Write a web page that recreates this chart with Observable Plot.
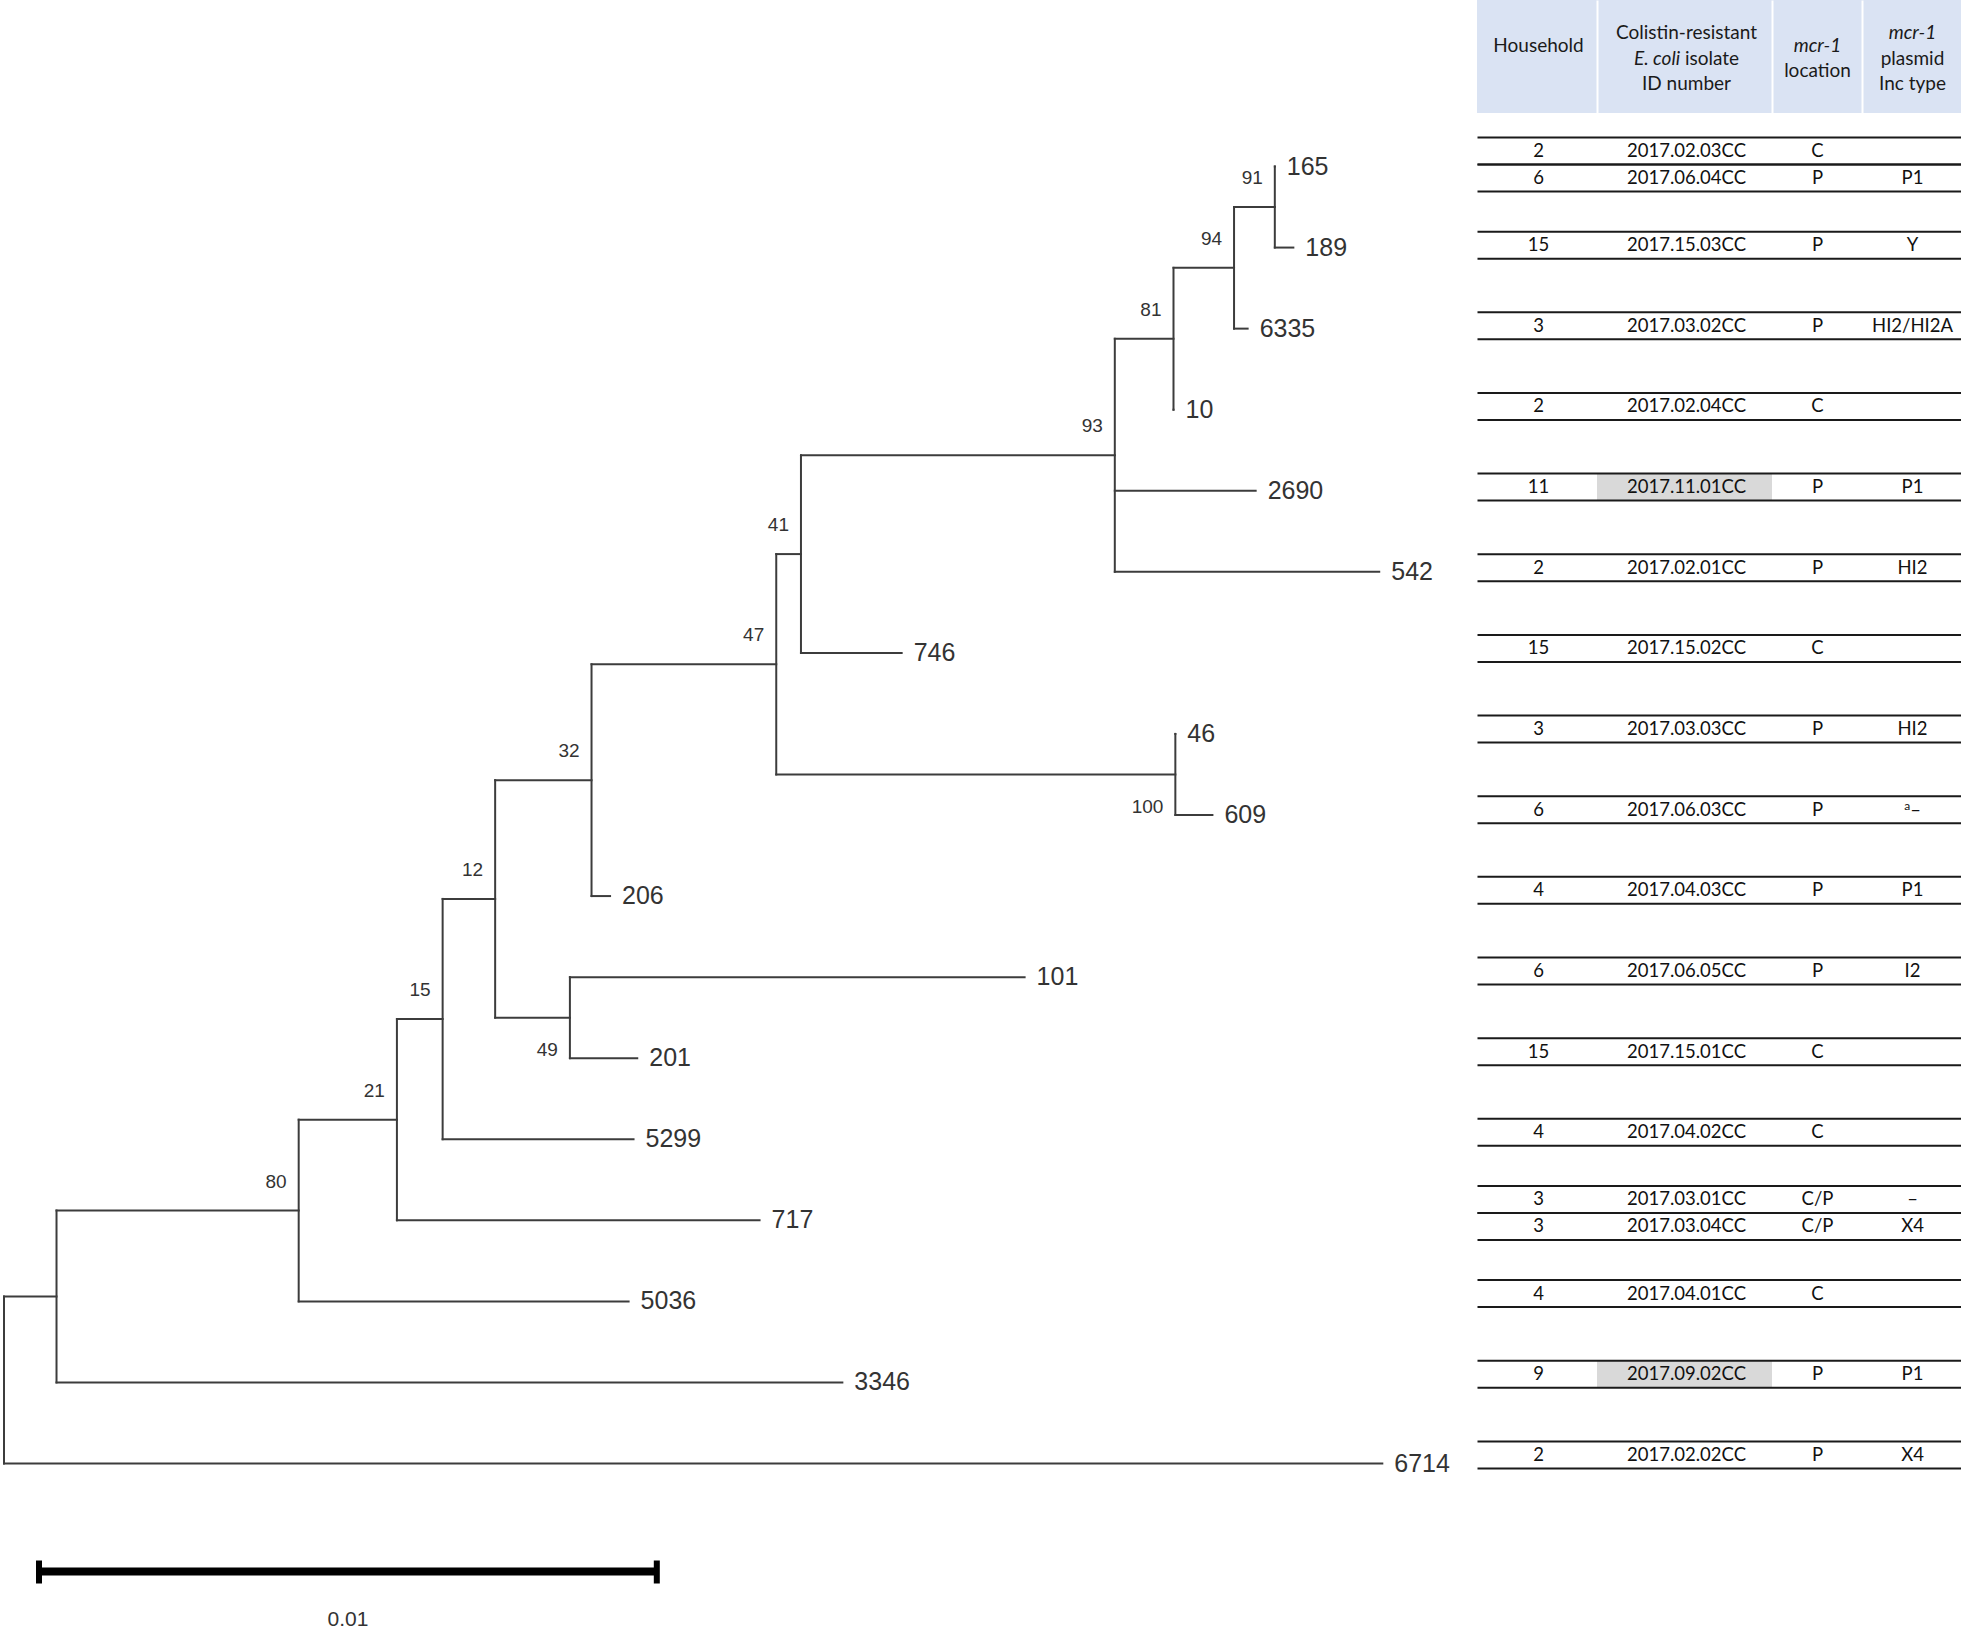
<!DOCTYPE html>
<html>
<head>
<meta charset="utf-8">
<script src="https://cdn.jsdelivr.net/npm/d3@7"></script>
<script src="https://cdn.jsdelivr.net/npm/@observablehq/plot@0.6"></script>
<style>
  html, body { margin: 0; padding: 0; background: #fff; }
  #wrap { display: flex; width: 1961px; height: 1628px; }
  #wrap svg { display: block; }
</style>
</head>
<body>
<div id="wrap"></div>
<script>
// ---------------- TREE DATA ----------------
// nodes in pre-order; children listed top to bottom
const nodeIds = ["root","nA","6714","n80","3346","n21","5036","n15","717","n12","5299",
  "n32","n49","101","201","n47","206","n41","n100","46","609","n93","746",
  "n81","2690","542","n94","10","n91","6335","165","189"];
const nodeParents = [null,"root","root","nA","nA","n80","n80","n21","n21","n15","n15",
  "n12","n12","n49","n49","n32","n32","n47","n47","n100","n100","n41","n41",
  "n93","n93","n93","n81","n81","n94","n94","n91","n91"];
const branchLengths = [0,0.00085,0.02231,0.00392,0.01272,0.00159,0.00534,0.00074,0.00587,0.00085,0.00309,
  0.00156,0.00121,0.00736,0.00109,0.00299,0.00030,0.00040,0.00646,0,0.00060,0.00508,0.00163,
  0.00095,0.00228,0.00428,0.00098,0,0.00066,0.00022,0,0.00030];
const bootstrapValues = [null,null,null,80,null,21,null,15,null,12,null,
  32,49,null,null,47,null,41,100,null,null,93,null,
  81,null,null,94,null,91,null,null,null];
const bootstrapBelow = ["n100","n49"];
const scaleBarLength = 0.01;
const scaleBarText = "0.01";

// ---------------- TABLE DATA ----------------
const tableHeader = [
  ["Household", ""],
  ["Colistin-resistant", "E. coli isolate", "ID number"],
  ["mcr-1", "location"],
  ["mcr-1", "plasmid", "Inc type"]
];
const rowST = ["165","165","189","6335","10","2690","542","746","46","609","206","101","201","5299","717","717","5036","3346","6714"];
const household = ["2","6","15","3","2","11","2","15","3","6","4","6","15","4","3","3","4","9","2"];
const isolateId = ["2017.02.03CC","2017.06.04CC","2017.15.03CC","2017.03.02CC","2017.02.04CC","2017.11.01CC",
  "2017.02.01CC","2017.15.02CC","2017.03.03CC","2017.06.03CC","2017.04.03CC","2017.06.05CC","2017.15.01CC",
  "2017.04.02CC","2017.03.01CC","2017.03.04CC","2017.04.01CC","2017.09.02CC","2017.02.02CC"];
const mcrLocation = ["C","P","P","P","C","P","P","C","P","P","P","P","C","C","C/P","C/P","C","P","P"];
const incType = ["","P1","Y","HI2/HI2A","","P1","HI2","","HI2","ᵃ–","P1","I2","","","–","X4","","P1","X4"];
const highlightedIds = ["2017.11.01CC","2017.09.02CC"];

// ---------------- LAYOUT ----------------
const W = 1961, H = 1628, treeW = 1476, tableW = W - treeW;
const lineColor = "#3c3c3c", textColor = "#333";
const xOpts = {domain: [0, 0.01], range: [3.5, 621.3], axis: null};
const yOpts = {domain: [0, 16], range: [166, 1463], axis: null};
const tyOpts = {domain: [0, 16], range: [164, 1454.4], axis: null};
const xs = Plot.scale({x: xOpts});
const ys = Plot.scale({y: yOpts});
const tys = Plot.scale({y: tyOpts});
const colEdges = [1, 121, 296, 386, 485];
const colCenters = [62, 210, 341, 436];
const rowPx = 27;
const rowH = rowPx / ((tyOpts.range[1] - tyOpts.range[0]) / 16);

// ---------------- BUILD TREE ----------------
const nodes = nodeIds.map((id, i) => ({id, parent: nodeParents[i], length: branchLengths[i], bootstrap: bootstrapValues[i]}));
const root = d3.stratify().id(d => d.id).parentId(d => d.parent)(nodes);
root.eachBefore(n => { n.dist = n.parent ? n.parent.dist + n.data.length : 0; });
let leafCounter = 0;
root.eachBefore(n => { if (!n.children) n.yi = leafCounter++; });
root.eachAfter(n => { if (n.children) n.yi = (n.children[0].yi + n.children[n.children.length - 1].yi) / 2; });
const allNodes = root.descendants();
const branches = allNodes.filter(n => n.parent);
const internals = allNodes.filter(n => n.children);
const leaves = root.leaves();
const boot = internals.filter(n => n.data.bootstrap != null);
const leafIndex = new Map(leaves.map(n => [n.id, n.yi]));

const sbX0 = xs.invert(38.5);
const scaleBar = [{x1: sbX0, x2: sbX0 + scaleBarLength, y: ys.invert(1571)}];

const treeFont = "'Liberation Sans', Arial, sans-serif";
const narrowFont = "'Liberation Sans Narrow', 'Arial Narrow', 'Liberation Sans', sans-serif";

const tree = Plot.plot({
  width: treeW, height: H,
  marginTop: 0, marginBottom: 0, marginLeft: 0, marginRight: 0,
  x: xOpts, y: yOpts,
  style: {background: "#fff", overflow: "visible"},
  marks: [
    Plot.link(branches, {x1: n => n.parent.dist, x2: n => n.dist, y1: n => n.yi, y2: n => n.yi,
      stroke: lineColor, strokeWidth: 2, strokeLinecap: "square"}),
    Plot.link(internals, {x1: n => n.dist, x2: n => n.dist, y1: n => n.children[0].yi, y2: n => n.children[n.children.length - 1].yi,
      stroke: lineColor, strokeWidth: 2, strokeLinecap: "square"}),
    Plot.text(leaves, {x: n => n.dist, y: n => n.yi, text: n => n.id, textAnchor: "start", dx: 12,
      fontSize: 25, fontFamily: treeFont, fill: textColor, lineAnchor: "middle"}),
    Plot.text(boot.filter(n => !bootstrapBelow.includes(n.id)), {x: n => n.dist, y: n => n.yi, text: n => String(n.data.bootstrap),
      textAnchor: "end", dx: -12, dy: -29, fontSize: 19, fontFamily: treeFont, fill: textColor, lineAnchor: "middle"}),
    Plot.text(boot.filter(n => bootstrapBelow.includes(n.id)), {x: n => n.dist, y: n => n.yi, text: n => String(n.data.bootstrap),
      textAnchor: "end", dx: -12, dy: 32, fontSize: 19, fontFamily: treeFont, fill: textColor, lineAnchor: "middle"}),
    // scale bar
    Plot.link(scaleBar, {x1: "x1", x2: "x2", y1: "y", y2: "y", stroke: "#000", strokeWidth: 8}),
    Plot.link(scaleBar.flatMap(d => [d.x1, d.x2]).map(x => ({x})), {x1: "x", x2: "x", y1: () => ys.invert(1560), y2: () => ys.invert(1583),
      stroke: "#000", strokeWidth: 6}),
    Plot.text(scaleBar, {x: d => (d.x1 + d.x2) / 2, y: () => ys.invert(1619), text: () => scaleBarText,
      fontSize: 21, fontFamily: narrowFont, fill: textColor, lineAnchor: "middle"})
  ]
});

// ---------------- BUILD TABLE ----------------
const stCount = d3.rollup(rowST, v => v.length, d => d);
const stSeen = new Map();
const rows = rowST.map((st, i) => {
  const k = stSeen.get(st) || 0; stSeen.set(st, k + 1);
  const n = stCount.get(st);
  const c = leafIndex.get(st) + (k - (n - 1) / 2) * rowH;
  return {st, c, y1: c - rowH / 2, y2: c + rowH / 2,
    cells: [household[i], isolateId[i], mcrLocation[i], incType[i]],
    highlight: highlightedIds.includes(isolateId[i])};
});
const cellData = rows.flatMap(r => r.cells.map((t, j) => ({t, j, c: r.c})));
const headerData = tableHeader.flatMap((lines, j) => lines.map((t, k) => ({
  t, j, italic: t === "mcr-1", y: tys.invert(58 + (k - (lines.length - 1) / 2) * 25.5)
})));
const rowLines = rows.flatMap(r => [r.y1, r.y2]);

const tableFont = "Lato, 'Open Sans', sans-serif";
const table = Plot.plot({
  width: tableW, height: H,
  marginTop: 0, marginBottom: 0, marginLeft: 0, marginRight: 0,
  x: {domain: [0, tableW], range: [0, tableW], axis: null},
  y: tyOpts,
  style: {background: "#fff", overflow: "visible"},
  marks: [
    Plot.rect([0], {x1: colEdges[0], x2: colEdges[4], y1: () => tys.invert(0), y2: () => tys.invert(113), fill: "#dae3f3"}),
    Plot.link(colEdges.slice(1, 4).map(x => ({x})), {x1: "x", x2: "x", y1: () => tys.invert(0), y2: () => tys.invert(113), stroke: "#fff", strokeWidth: 2}),
    Plot.text(headerData.filter(d => d.t), {x: d => colCenters[d.j], y: "y", text: "t", fontSize: 19, fontFamily: tableFont,
      fontStyle: d => d.italic ? "italic" : "normal", fill: "#1a1a1a", lineAnchor: "middle"}),
    Plot.rect(rows.filter(r => r.highlight), {x1: colEdges[1], x2: colEdges[2], y1: "y1", y2: "y2", fill: "#d9d9d9"}),
    Plot.link(rowLines.map(y => ({y})), {x1: colEdges[0], x2: colEdges[4], y1: "y", y2: "y", stroke: "#1a1a1a", strokeWidth: 2}),
    Plot.text(cellData.filter(d => d.t), {x: d => colCenters[d.j], y: "c", text: "t", fontSize: 18.5, fontFamily: tableFont,
      fill: "#111", lineAnchor: "middle"})
  ]
});

// mixed styling inside header / footnote marker
d3.select(table).selectAll("text").each(function () {
  const el = d3.select(this);
  const txt = this.textContent;
  if (txt === "E. coli isolate") {
    el.text(null);
    el.append("tspan").attr("font-style", "italic").text("E. coli");
    el.append("tspan").text(" isolate");
  } else if (txt === "mcr-1") {
    el.attr("font-style", "italic");
  } else if (txt === "ᵃ–") {
    el.text(null);
    el.append("tspan").attr("font-size", 12).attr("dy", -6).text("a");
    el.append("tspan").attr("dy", 6).text("–");
  }
});

const wrap = document.getElementById("wrap");
wrap.appendChild(tree);
wrap.appendChild(table);
</script>
</body>
</html>
